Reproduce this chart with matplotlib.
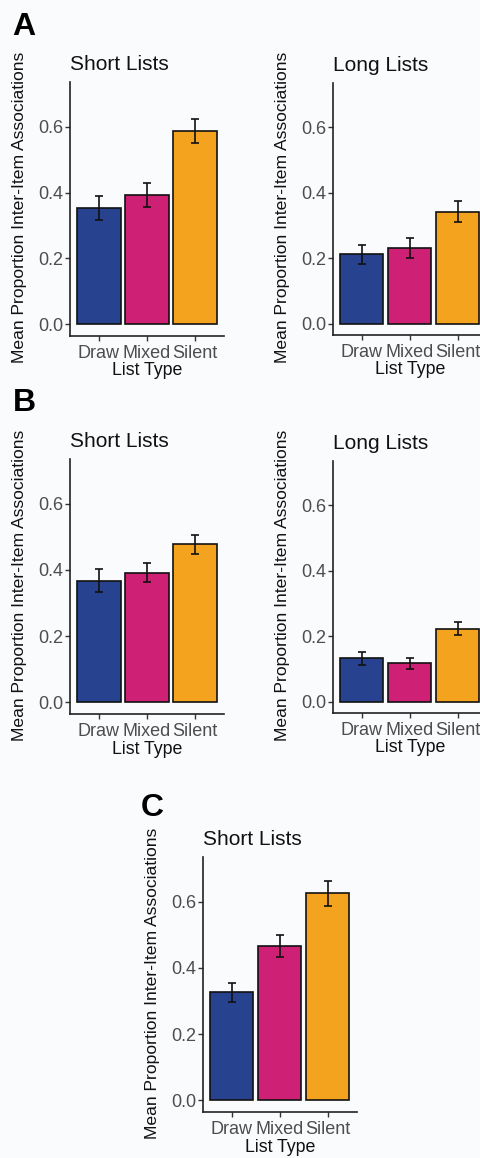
import matplotlib
matplotlib.use("Agg")
import matplotlib.pyplot as plt

plt.rcParams['font.family'] = ['Liberation Sans', 'DejaVu Sans']

categories = ['Draw', 'Mixed', 'Silent']
colors = ['#27428E', '#CE2175', '#F4A31E']

a_short_mean = [0.353, 0.393, 0.587]
a_short_err = [0.035, 0.036, 0.037]
a_long_mean = [0.211, 0.231, 0.342]
a_long_err = [0.029, 0.031, 0.033]
b_short_mean = [0.368, 0.392, 0.478]
b_short_err = [0.036, 0.029, 0.029]
b_long_mean = [0.132, 0.117, 0.223]
b_long_err = [0.019, 0.017, 0.019]
c_short_mean = [0.326, 0.466, 0.625]
c_short_err = [0.028, 0.033, 0.037]

yticks = [0.0, 0.2, 0.4, 0.6]
ytick_labels = ['0.0', '0.2', '0.4', '0.6']

W, H = 480, 1158
bg = '#fafbfc'
fig = plt.figure(figsize=(W / 100, H / 100), dpi=100, facecolor=bg)


def add_panel(x0, x1, y0, y1, title, means, errs):
    h = y1 - y0
    ax = fig.add_axes([x0 / W, 1 - y1 / H, (x1 - x0) / W, h / H])
    ax.set_facecolor(bg)
    xs = [1, 2, 3]
    ax.bar(xs, means, width=0.9, color=colors, edgecolor='#111111', linewidth=1.2, zorder=2)
    ax.errorbar(xs, means, yerr=errs, fmt='none', ecolor='#111111', elinewidth=1.2,
                capsize=2.6, capthick=1.2, zorder=3)
    ax.set_xlim(0.4, 3.6)
    ax.set_ylim(-0.035, 0.735)
    ax.set_xticks(xs)
    ax.set_xticklabels(categories)
    ax.set_yticks(yticks)
    ax.set_yticklabels(ytick_labels)
    for s in ['top', 'right']:
        ax.spines[s].set_visible(False)
    for s in ['left', 'bottom']:
        ax.spines[s].set_color('#222222')
        ax.spines[s].set_linewidth(1.2)
    ax.tick_params(axis='both', length=3.6, width=1.0, color='#333333',
                   labelcolor='#4D4D4D', labelsize=13)
    ax.tick_params(axis='x', pad=3.0)
    ax.tick_params(axis='y', pad=1.2)
    ax.set_title(title, loc='left', fontsize=15, pad=8.5, color='#111111')
    ax.set_xlabel('List Type', fontsize=12.8, color='#111111', va='center')
    ax.xaxis.set_label_coords(0.5, -35 / h)
    ax.set_ylabel('Mean Proportion Inter-Item Associations', fontsize=12.6,
                  color='#111111', va='center')
    ax.yaxis.set_label_coords(-50 / (x1 - x0), 0.505)
    return ax


add_panel(70, 224, 82, 336, 'Short Lists', a_short_mean, a_short_err)
add_panel(332.7, 486.7, 83, 335, 'Long Lists', a_long_mean, a_long_err)
add_panel(70, 224, 459, 714, 'Short Lists', b_short_mean, b_short_err)
add_panel(332.7, 486.7, 461, 713, 'Long Lists', b_long_mean, b_long_err)
add_panel(202.7, 356.7, 857, 1112, 'Short Lists', c_short_mean, c_short_err)

for lab, x, y in [('A', 12, 12), ('B', 13, 388), ('C', 141, 793)]:
    fig.text(x / W, 1 - y / H, lab, fontsize=23, fontweight='bold', ha='left', va='top',
             color='black')

fig.savefig('out.png', dpi=100, facecolor=bg)
